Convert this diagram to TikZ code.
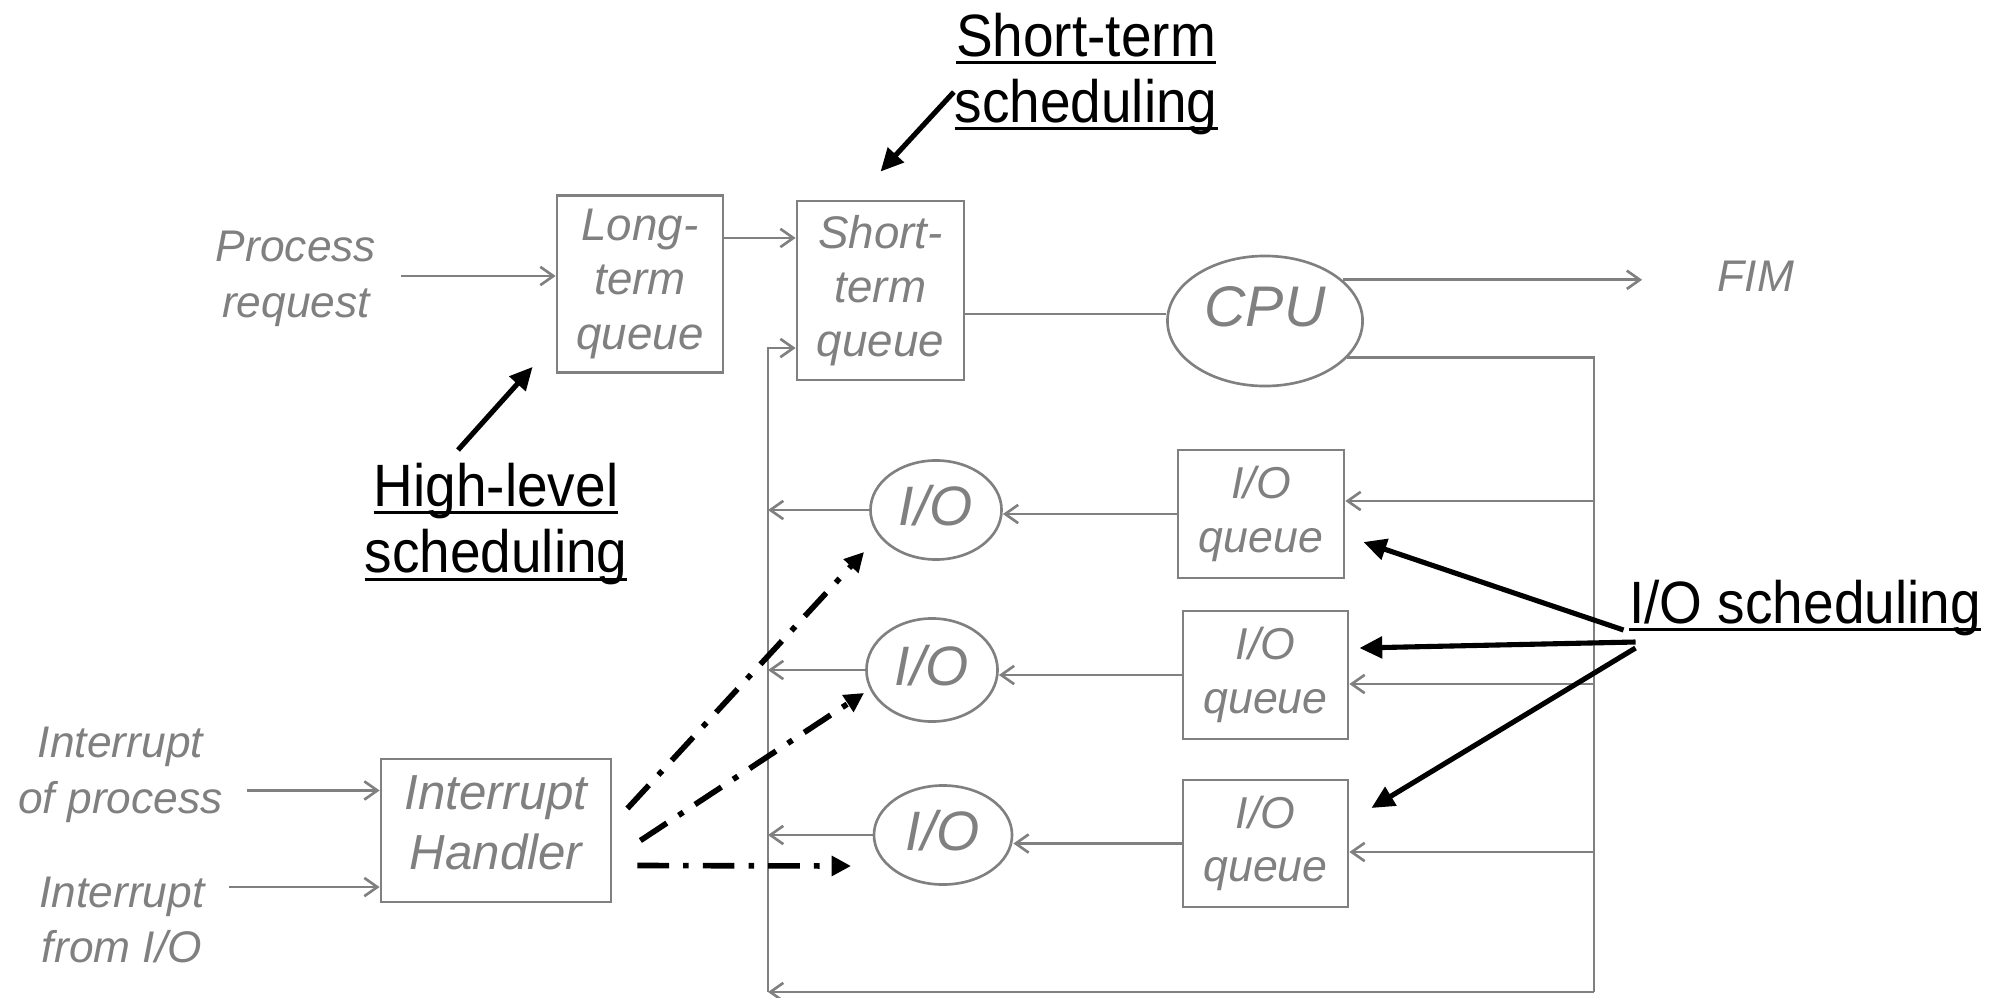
\documentclass[tikz,border=0pt]{standalone}
\usepackage{fontspec}
\setmainfont{Liberation Sans}
\newfontfamily\schedfont{Liberation Sans}[FakeStretch=0.92]
\usetikzlibrary{positioning,calc,arrows.meta,shapes.geometric}
\definecolor{boxgray}{RGB}{128,128,128}
\newcommand{\uln}[1]{\setbox0\hbox{#1}\rlap{\rule[-0.13em]{\wd0}{0.05em}}\box0}
\tikzset{
	lbl/.style={text=boxgray, font=\itshape\fontsize{12.6}{15.8}\selectfont, align=center, inner sep=0.24cm},
	qbox/.style={draw=boxgray, line width=0.75pt, text=boxgray, align=center, inner sep=0pt, font=\itshape\fontsize{13}{15.4}\selectfont},
	proc/.style={ellipse, draw=boxgray, line width=0.75pt, text=boxgray, inner sep=0pt, font=\itshape\fontsize{15.8}{18}\selectfont},
	sched/.style={align=center, inner sep=0pt, font=\schedfont\fontsize{17}{18.8}\selectfont},
	gline/.style={draw=boxgray, line width=0.75pt},
	garrow/.style={gline, -{Straight Barb[length=3.7pt,width=5.2pt]}},
	barrow/.style={line width=1.45pt, -{Triangle[length=6.5pt,width=6pt]}},
	darrow/.style={line width=1.6pt, dash pattern=on 9pt off 4pt on 1.6pt off 4pt, -{Triangle[length=5.5pt,width=5.5pt]}},
}

\begin{document}
\begin{tikzpicture}[x=0.01cm, y=-0.01cm]
	\useasboundingbox (0,0) rectangle (2004,997);

	% queues and processors
	\node[qbox, minimum width=1.66cm, minimum height=1.77cm] (lq) at (640,284) {Long-\\term\\queue};
	\node[qbox, minimum width=1.67cm, minimum height=1.79cm] (sq) at (880.5,290.5) {Short-\\term\\queue};
	\node[proc, minimum width=1.95cm, minimum height=1.30cm, text depth=0.3cm, font=\itshape\fontsize{16.3}{18}\selectfont] (cpu) at (1265,321) {CPU};

	\node[qbox, minimum width=1.66cm, minimum height=1.28cm, font=\itshape\fontsize{12.7}{15.2}\selectfont] (ioq1) at (1261,514) {I/O\\queue};
	\node[qbox, minimum width=1.65cm, minimum height=1.28cm, font=\itshape\fontsize{12.7}{15.2}\selectfont] (ioq2) at (1265.5,675) {I/O\\queue};
	\node[qbox, minimum width=1.65cm, minimum height=1.27cm, font=\itshape\fontsize{12.7}{15.2}\selectfont] (ioq3) at (1265.5,843.5) {I/O\\queue};

	\node[proc, minimum width=1.31cm, minimum height=0.99cm, text depth=0.1cm] (io1) at (936,510) {I/O};
	\node[proc, minimum width=1.31cm, minimum height=1.03cm, text depth=0.1cm] (io2) at (932,670) {I/O};
	\node[proc, minimum width=1.38cm, minimum height=0.99cm, text depth=0.1cm] (io3) at (943,835) {I/O};

	\node[qbox, minimum width=2.30cm, minimum height=1.43cm, text depth=0.16cm, font=\itshape\fontsize{14}{17}\selectfont] (ih) at (496,830.5) {Interrupt\\Handler};

	% outside labels
	\node[lbl] (preq) at (296,279) {Process\\request};
	\node[lbl] (fim) at (1756,276) {FIM};
	\node[lbl] (intp) at (120.5,775) {Interrupt\\of process};
	\node[lbl] (intio) at (122,920) {Interrupt\\from I/O};

	\node[sched] (stsched) at (1086,74) {\uln{Short-term}\\\uln{scheduling}};
	\node[sched, font=\schedfont\fontsize{17}{19}\selectfont] (hlsched) at (496,524) {\uln{High-level}\\\uln{scheduling}};
	\node[sched] (iosched) at (1805,608) {\uln{I/O scheduling}};

	\coordinate (rbot) at (1594,992);
	\coordinate (lbot) at (768,992);

	% flow
	\draw[garrow] ([yshift=0.03cm]preq.east) -- ([yshift=0.03cm]preq.east -| lq.west);
	\draw[garrow] ([yshift=0.46cm]lq.east) -- ([yshift=0.46cm]lq.east -| sq.west);
	\draw[gline] ([yshift=-0.235cm]sq.east) -- ([yshift=-0.235cm]sq.east -| cpu.west);
	\draw[garrow] (cpu.28) -- ([xshift=-0.51cm]fim.west |- cpu.28);
	\draw[gline] (cpu.-24) -- (cpu.-24 -| rbot) -- (rbot);
	\draw[garrow] (rbot) -- (lbot);
	\draw[garrow] (lbot) -- ([yshift=-0.575cm]sq.west -| lbot) -- ([yshift=-0.575cm]sq.west);

	\draw[garrow] ([yshift=0.13cm]ioq1.east -| rbot) -- ([yshift=0.13cm]ioq1.east);
	\draw[garrow] ([yshift=-0.09cm]ioq2.east -| rbot) -- ([yshift=-0.09cm]ioq2.east);
	\draw[garrow] ([yshift=-0.085cm]ioq3.east -| rbot) -- ([yshift=-0.085cm]ioq3.east);

	\draw[garrow] (ioq1.west) -- (ioq1.west -| io1.east);
	\draw[garrow] (ioq2.west) -- (ioq2.west -| io2.east);
	\draw[garrow] (ioq3.west) -- (ioq3.west -| io3.east);

	\draw[garrow] (io1.west) -- (io1.west -| lbot);
	\draw[garrow] (io2.west) -- (io2.west -| lbot);
	\draw[garrow] (io3.west) -- (io3.west -| lbot);

	\draw[garrow] ([yshift=0.4cm]ih.west -| intp.east) -- ([yshift=0.4cm]ih.west);
	\draw[garrow] ([yshift=-0.565cm]ih.west -| intio.east) -- ([yshift=-0.565cm]ih.west);

	% interrupts to devices
	\draw[darrow] ([shift={(15,-22)}]ih.east) -- ([shift={(-72,42)}]io1.center);
	\draw[darrow] ([shift={(28,10)}]ih.east) -- ([shift={(-68,23)}]io2.center);
	\draw[darrow] ([shift={(25,35)}]ih.east) -- ([shift={(-92,31)}]io3.center);

	% scheduling pointers
	\draw[barrow] ([yshift=-0.18cm]stsched.west) -- ([yshift=0.28cm]sq.north);
	\draw[barrow] ([shift={(-38,-74)}]hlsched.center) -- ([shift={(-23,-7)}]lq.south west);
	\draw[barrow] ([shift={(-5,22)}]iosched.west) -- ([shift={(18,28)}]ioq1.east);
	\draw[barrow] ([shift={(7,34)}]iosched.west) -- ([shift={(10,-27)}]ioq2.east);
	\draw[barrow] ([shift={(7,40)}]iosched.west) -- ([shift={(22,-35.5)}]ioq3.east);
\end{tikzpicture}
\end{document}
